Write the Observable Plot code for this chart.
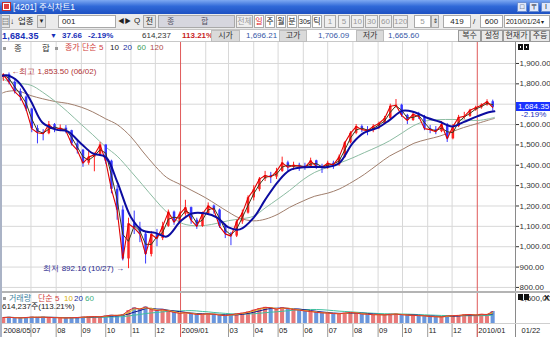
<!DOCTYPE html>
<html><head><meta charset="utf-8">
<script src="https://cdn.jsdelivr.net/npm/d3@7"></script>
<script src="https://cdn.jsdelivr.net/npm/@observablehq/plot@0.6"></script>
<style>
*{box-sizing:border-box}
body{margin:0;background:#fff;}
#win{position:relative;width:550px;height:337px;overflow:hidden;background:#fff;font-family:"Liberation Sans","Noto Sans CJK KR",sans-serif;color:#222;font-size:8px;}
.a{position:absolute;white-space:nowrap;line-height:1;}
.b{position:absolute;white-space:nowrap;border:1px solid #a9a9a9;background:#fff;text-align:center;line-height:11px;height:13px;top:15px;font-size:8px;}
.l{position:absolute;white-space:nowrap;top:30px;height:12px;background:#dadada;border:1px solid #bdbdbd;text-align:center;line-height:10px;font-size:8px;color:#333;}
.w{position:absolute;white-space:nowrap;top:30px;height:12px;background:#e9e9e9;border:1px solid #9a9a9a;text-align:center;line-height:10px;font-size:8px;color:#333;}
.v{position:absolute;white-space:nowrap;top:31px;line-height:10px;font-size:8px;}
#pricebox, #volbox, #datebox{position:absolute;left:0;width:550px;}
#pricebox{top:42px;height:249px;}
#volbox{top:291px;height:32px;border-top:2px solid #b4b4b4;}
#datebox{top:323px;height:14px;border-top:1px solid #cfcfcf;}
svg{display:block}
</style></head>
<body><div id="win">
<div id="pricebox"></div><div id="volbox"></div><div id="datebox"></div>

<!-- title bar -->
<div class="a" style="left:0;top:0;width:550px;height:14px;background:linear-gradient(#7ea9f2,#3069d8 45%,#1d50c2);"></div>
<div class="a" style="left:2px;top:2px;width:9px;height:9px;background:#fff;border:1px solid #c03030;"><div style="margin:1px;width:5px;height:5px;background:#e04040"></div></div>
<div class="a" style="left:13px;top:3px;font-size:8.5px;color:#fff;">[4201] 주식차트1</div>
<div class="a" style="left:517px;top:2px;width:10px;height:10px;background:#dfe8fb;border:1px solid #6d8fd0;font-size:7px;text-align:center;line-height:8px;color:#123">□</div>
<div class="a" style="left:529px;top:2px;width:10px;height:10px;background:#dfe8fb;border:1px solid #6d8fd0;font-size:7px;text-align:center;line-height:8px;color:#123">〒</div>
<div class="a" style="left:541px;top:2px;width:10px;height:10px;background:#dfe8fb;border:1px solid #6d8fd0;font-size:7px;text-align:center;line-height:8px;color:#123">I</div>

<!-- toolbar -->
<div class="a" style="left:0;top:14px;width:550px;height:16px;background:#ebebeb;border-bottom:1px solid #c4c4c4;"></div>
<div class="b" style="left:1px;width:9px;background:#e4e4e4;font-size:7px">▤</div>
<div class="a" style="left:10px;top:18px;font-size:8px;">↓</div>
<div class="a" style="left:18px;top:17px;font-size:8.5px;">업종</div>
<div class="b" style="left:37px;width:9px;background:#e4e4e4;font-size:6px">▼</div>
<div class="b" style="left:58px;width:58px;text-align:left;padding-left:3px">001</div>
<div class="a" style="left:118px;top:18px;font-size:6.5px;">◀▶</div>
<div class="a" style="left:134px;top:17px;font-size:8px;">Q</div>
<div class="b" style="left:143px;width:13px;background:#e4e4e4">전</div>
<div class="b" style="left:158px;width:77px;background:#d6d6de;color:#556"><span style="position:absolute;left:8px">종</span><span style="position:absolute;left:42px">합</span></div>
<div class="b" style="left:236px;width:17px;color:#999;background:#efefef">전체</div>
<div class="b" style="left:254px;width:10px;color:#e02020">일</div>
<div class="b" style="left:265px;width:10px;">주</div>
<div class="b" style="left:276px;width:10px;">월</div>
<div class="b" style="left:287px;width:10px;">분</div>
<div class="b" style="left:298px;width:13px;font-size:7px">30s</div>
<div class="b" style="left:312px;width:10px;">틱</div>
<div class="b" style="left:324px;width:12px;color:#999;background:#efefef">1</div>
<div class="b" style="left:338px;width:12px;color:#999;background:#efefef">5</div>
<div class="b" style="left:351px;width:13px;color:#999;background:#efefef">10</div>
<div class="b" style="left:365px;width:13px;color:#999;background:#efefef">30</div>
<div class="b" style="left:379px;width:13px;color:#999;background:#efefef">60</div>
<div class="b" style="left:393px;width:15px;color:#999;background:#efefef">120</div>
<div class="b" style="left:414px;width:17px;color:#999;">5</div>
<div class="b" style="left:431px;width:8px;font-size:6px;background:#e4e4e4">⇕</div>
<div class="b" style="left:443px;width:28px;">419</div>
<div class="a" style="left:473px;top:18px;font-size:8px;">/</div>
<div class="b" style="left:480px;width:23px;">600</div>
<div class="b" style="left:504px;width:46px;text-align:left;padding-left:1px;font-size:7.2px;letter-spacing:-0.2px">2010/01/24<span style="font-size:6px"> ▾</span></div>

<!-- info row -->
<div class="a" style="left:0;top:30px;width:550px;height:12px;background:#fff;border-bottom:1px solid #c8c8c8"></div>
<div class="v" style="left:2px;font-size:9px;font-weight:bold;color:#1830b8;letter-spacing:0.2px">1,684.35</div>
<div class="v" style="left:50px;font-size:7px;color:#1830b8">▼</div>
<div class="v" style="left:62px;color:#1830b8;font-weight:bold">37.66</div>
<div class="v" style="left:88px;color:#1830b8;font-weight:bold">-2.19%</div>
<div class="v" style="left:142px;color:#333">614,237</div>
<div class="v" style="left:182px;color:#c81e1e;font-weight:bold">113.21%</div>
<div class="l" style="left:211px;width:29px">시가</div>
<div class="v" style="left:246px;color:#3456a6">1,696.21</div>
<div class="l" style="left:279px;width:28px">고가</div>
<div class="v" style="left:318px;color:#3456a6">1,706.09</div>
<div class="l" style="left:356px;width:28px">저가</div>
<div class="v" style="left:388px;color:#3456a6">1,665.60</div>
<div class="w" style="left:458px;width:23px">복수</div>
<div class="w" style="left:481px;width:22px">설정</div>
<div class="w" style="left:503px;width:27px">현재가</div>
<div class="w" style="left:530px;width:20px">주등</div>

<!-- price legend row -->
<div class="a" style="left:3px;top:47px;width:3px;height:3px;background:#9a9a9a"></div>
<div class="a" style="left:14px;top:44px;font-size:8.5px;color:#333">종</div>
<div class="a" style="left:42px;top:44px;font-size:8.5px;color:#333">합</div>
<div class="a" style="left:55px;top:47px;width:3px;height:3px;background:#9a9a9a"></div>
<div class="a" style="left:65px;top:44px;font-size:8px;color:#d03c3c">종가 단순 5</div>
<div class="a" style="left:110px;top:44px;font-size:8px;color:#222">10</div>
<div class="a" style="left:123px;top:44px;font-size:8px;color:#2030a0">20</div>
<div class="a" style="left:137px;top:44px;font-size:8px;color:#40a060">60</div>
<div class="a" style="left:150px;top:44px;font-size:8px;color:#b04a4a">120</div>
<div class="a" style="left:518px;top:44px;width:5px;height:6px;background:#111;border:1px solid #111"><div style="margin:1px;width:1px;height:2px;background:#fff"></div></div>
<div class="a" style="left:524px;top:44px;width:5px;height:6px;background:#111;border:1px solid #111"><div style="margin:1px;width:1px;height:2px;background:#fff"></div></div>

<!-- volume labels -->
<div class="a" style="left:3px;top:297px;width:3px;height:3px;background:#9a9a9a"></div>
<div class="a" style="left:9px;top:295px;font-size:8px;color:#3a7fa0">거래량</div>
<div class="a" style="left:38px;top:295px;font-size:8px;color:#d03c3c">단순 5</div>
<div class="a" style="left:64px;top:295px;font-size:8px;color:#d8b000">10</div>
<div class="a" style="left:74px;top:295px;font-size:8px;color:#2030a0">20</div>
<div class="a" style="left:85px;top:295px;font-size:8px;color:#40b080">60</div>
<div class="a" style="left:2px;top:303px;font-size:8px;color:#222">614,237주(113.21%)</div>
<div class="a" style="left:520px;top:295px;font-size:8px;color:#333">1,600,00</div>
<div class="a" style="left:518px;top:294px;width:5px;height:6px;background:#111"></div>
<div class="a" style="left:524px;top:294px;width:5px;height:6px;background:#111"></div>
<div class="a" style="left:544px;top:294px;font-size:8px;font-weight:bold;color:#111">X</div>

<div class="a" style="left:0;top:14px;width:2px;height:323px;background:#aab3c6"></div>
<div id="cur" class="a" style="left:516px;width:34px;height:9px;background:#1a33ff;color:#fff;font-size:8px;line-height:9px;padding-left:2px">1,684.35</div>
<div id="curpct" class="a" style="left:521px;font-size:8px;color:#2030c0">-2.19%</div>
</div>

<script>
// ---- data ----
const weekStart = "2008-05-26", weekEnd = "2010-01-19";   // weekly bars, Monday starts
const firstOpen = 1830;
const close = [1845,1808,1762,1735,1676,1580,1560,1555,1600,1576,
1582,1570,1505,1474,1410,1440,1452,1500,1420,1282,
1180,940,1113,1092,1062,962,1060,1040,1100,1170,
1120,1160,1192,1130,1100,1162,1200,1180,1100,1063,
1052,1122,1165,1240,1280,1332,1350,1342,1370,1412,
1390,1400,1396,1390,1422,1395,1390,1410,1402,1440,
1510,1557,1590,1575,1570,1591,1605,1630,1690,1695,
1645,1620,1650,1640,1580,1575,1565,1600,1530,1590,
1635,1640,1670,1682,1695,1712,1684.35];
const high = [1850,1853.5,1815,1775,1740,1680,1595,1575,1615,1605,
1598,1595,1572,1520,1478,1475,1460,1512,1500,1425,
1300,1200,1140,1175,1120,1075,1075,1085,1120,1180,
1175,1170,1228,1195,1140,1170,1215,1205,1185,1110,
1070,1130,1180,1250,1300,1340,1370,1365,1385,1440,
1420,1415,1410,1410,1435,1425,1405,1420,1420,1450,
1515,1565,1600,1598,1590,1600,1612,1640,1700,1723,
1700,1650,1662,1660,1645,1595,1590,1615,1605,1600,
1645,1660,1675,1690,1702,1722,1720];
const low = [1812,1795,1750,1715,1665,1560,1505,1520,1550,1560,
1565,1555,1495,1455,1390,1400,1368,1445,1405,1260,
1130,930,892.16,1060,1020,915,950,1000,1030,1095,
1105,1115,1150,1110,1085,1095,1155,1160,1090,1040,
1005,1045,1110,1160,1225,1270,1320,1310,1330,1365,
1370,1375,1370,1375,1385,1380,1360,1380,1380,1395,
1435,1505,1550,1560,1545,1560,1575,1600,1625,1680,
1635,1600,1615,1625,1570,1555,1550,1560,1512,1525,
1585,1625,1635,1665,1675,1690,1665.6];
const volume = [260,270,250,240,260, 280,270,275,260, 255,245,240,250,260,
280,290,300,290, 330,360,350,380, 560,680,620,720,600, 560,600,540,480,
440,470,430,390,400, 420,400,360,340, 380,420,450,500, 580,650,700,680,620,
680,650,600,580, 540,520,480,460, 450,430,420,450,480, 450,410,400,380,
380,370,400,410,380, 360,350,340,330, 300,290,280,330, 340,350,380,390,360,
400,390,520]; // thousand shares
const maDates = ["2008-05-27","2008-06-01","2008-06-15","2008-07-01","2008-07-15","2008-08-01","2008-08-15","2008-09-01","2008-09-15","2008-10-01","2008-10-15","2008-11-01","2008-11-15","2008-12-01","2008-12-15","2009-01-01","2009-01-15","2009-02-01","2009-02-15","2009-03-01","2009-03-15","2009-04-01","2009-04-15","2009-05-01","2009-05-15","2009-06-01","2009-06-15","2009-07-01","2009-07-15","2009-08-01","2009-08-15","2009-09-01","2009-09-15","2009-10-01","2009-10-15","2009-11-01","2009-11-15","2009-12-01","2009-12-15","2010-01-01","2010-01-15","2010-01-22"];
const ma20 = [1840,1842,1812,1715,1610,1575,1566,1505,1458,1440,1320,1145,1080,1068,1050,1125,1163,1163,1143,1095,1085,1143,1230,1320,1375,1390,1392,1392,1410,1510,1560,1585,1622,1668,1662,1632,1615,1590,1612,1640,1660,1665];
const ma60 = [1825,1815,1803,1793,1760,1710,1663,1600,1550,1490,1445,1370,1305,1230,1170,1118,1104,1105,1115,1128,1136,1150,1190,1235,1276,1330,1365,1390,1410,1437,1462,1492,1520,1560,1595,1620,1624,1625,1623,1620,1628,1635];
const ma120 = [1755,1762,1765,1742,1727,1712,1704,1685,1662,1628,1600,1540,1470,1395,1340,1305,1276,1240,1205,1170,1140,1127,1135,1160,1193,1225,1248,1263,1283,1320,1355,1405,1445,1478,1508,1528,1542,1565,1585,1605,1622,1630];
const yTicks = [800,900,1000,1100,1200,1300,1400,1500,1600,1700,1800,1900];
const tickDates = ["2008-05-27","2008-07-01","2008-08-01","2008-09-01","2008-10-01","2008-11-01","2008-12-01","2009-01-01","2009-03-01","2009-04-01","2009-05-01","2009-06-01","2009-07-01","2009-08-01","2009-09-01","2009-10-01","2009-11-01","2009-12-01","2010-01-01"];
const tickLabels = ["2008/05","07","08","09","10","11","12","2009/01","03","04","05","06","07","08","09","10","11","12","2010/01"];
const lastDateLabel = "01/22";
const highNote = {date:"2008-06-02", value:1853.50, label:"←최고 1,853.50 (06/02)"};
const lowNote = {date:"2008-10-27", value:892.16, label:"최저 892.16 (10/27) →"};

// ---- build tables ----
const weeks = d3.utcMonday.range(new Date(weekStart), new Date(weekEnd));
const n = Math.min(weeks.length, close.length);
const bars = d3.range(n).map(i => ({
  date: d3.utcDay.offset(weeks[i], 2),
  mon: weeks[i],
  open: i ? close[i-1] : firstOpen,
  close: close[i], high: high[i], low: low[i], vol: volume[i]
}));
const up = bars.filter(d => d.close >= d.open), dn = bars.filter(d => d.close < d.open);
const ma = maDates.map((d,i) => ({date:new Date(d), m20:ma20[i], m60:ma60[i], m120:ma120[i]}));
const xDomain = [new Date("2008-05-27"), new Date("2010-02-17")];
const gridMonths = d3.utcMonth.range(new Date("2008-07-01"), new Date("2010-01-23"));
const grayMonths = gridMonths.filter(d => d.getUTCMonth() !== 0);
const yearMonths = gridMonths.filter(d => d.getUTCMonth() === 0);
const ticks = tickDates.map((d,i) => ({date:new Date(d), label:tickLabels[i]}));
const RED = "#ff2222", BLUE = "#3838ff";
const xOpt = {type:"utc", domain:xDomain, axis:null};
const common = {width:550, marginLeft:2, marginRight:35, marginTop:0, marginBottom:0};

const price = Plot.plot({
  ...common, height:249,
  style:{background:"#fff", fontFamily:"Liberation Sans, sans-serif", fontSize:"8px", color:"#333"},
  x: xOpt,
  y: {domain:[780,2003], axis:"right", ticks:yTicks, tickFormat:d3.format(",.2f"), tickSize:3, tickPadding:1, label:null},
  marks: [
    Plot.ruleY(yTicks, {stroke:"#d8d8d8"}),
    Plot.ruleX(grayMonths, {stroke:"#d8d8d8"}),
    Plot.ruleX(yearMonths, {stroke:"#e05a5a"}),
    Plot.line(ma, {x:"date", y:"m120", stroke:"#a07e6c", strokeWidth:1, curve:"catmull-rom"}),
    Plot.line(ma, {x:"date", y:"m60", stroke:"#8cbca2", strokeWidth:1, curve:"catmull-rom"}),
    Plot.ruleX(up, {x:"date", y1:"low", y2:"high", stroke:RED, strokeWidth:1}),
    Plot.ruleX(dn, {x:"date", y1:"low", y2:"high", stroke:BLUE, strokeWidth:1}),
    Plot.ruleX(up, {x:"date", y1:"open", y2:"close", stroke:RED, strokeWidth:2.5}),
    Plot.ruleX(dn, {x:"date", y1:"open", y2:"close", stroke:BLUE, strokeWidth:2.5}),
    Plot.line(bars, Plot.windowY({k:2, anchor:"end"}, {x:"date", y:"close", stroke:"#3a3a1a", strokeWidth:1})),
    Plot.line(bars, {x:"date", y:"close", stroke:"#e00000", strokeWidth:1.1}),
    Plot.line(ma, {x:"date", y:"m20", stroke:"#0c0ca0", strokeWidth:2, curve:"catmull-rom"}),
    Plot.ruleX([xDomain[1]], {stroke:"#8a8a8a"}),
    Plot.text([highNote], {x:d=>new Date(d.date), y:"value", text:"label", textAnchor:"start", dx:4, dy:-2, fill:"#b03434", fontSize:8}),
    Plot.text([lowNote], {x:d=>new Date(d.date), y:"value", text:"label", textAnchor:"end", dx:-3, fill:"#28288c", fontSize:8})
  ]
});
document.getElementById("pricebox").appendChild(price);

const vol = Plot.plot({
  ...common, height:30,
  style:{background:"#fff"},
  x: xOpt,
  y: {domain:[0,1300], axis:null},
  marks: [
    Plot.ruleX(grayMonths, {stroke:"#dcdcdc"}),
    Plot.rectY(up, {x1:"mon", x2:d=>d3.utcDay.offset(d.mon,5), y:"vol", fill:"#e87878"}),
    Plot.rectY(dn, {x1:"mon", x2:d=>d3.utcDay.offset(d.mon,5), y:"vol", fill:"#6a96dc"}),
    Plot.ruleX(yearMonths, {stroke:"#e05a5a"}),
    Plot.line(bars, Plot.windowY({k:12, anchor:"end"}, {x:"date", y:"vol", stroke:"#40c0a0", strokeWidth:1})),
    Plot.line(bars, Plot.windowY({k:4, anchor:"end"}, {x:"date", y:"vol", stroke:"#101090", strokeWidth:1})),
    Plot.line(bars, Plot.windowY({k:2, anchor:"end"}, {x:"date", y:"vol", stroke:"#e0c020", strokeWidth:1})),
    Plot.line(bars, {x:"date", y:"vol", stroke:"#e03030", strokeWidth:1}),
    Plot.ruleX([xDomain[1]], {stroke:"#8a8a8a"})
  ]
});
document.getElementById("volbox").appendChild(vol);

const dates = Plot.plot({
  ...common, height:13,
  style:{background:"#fff", fontFamily:"Liberation Sans, sans-serif", fontSize:"7.5px", color:"#222"},
  x: xOpt,
  marks: [
    Plot.ruleX(ticks.slice(1), {x:"date", stroke:"#9a9a9a"}),
    Plot.ruleX(yearMonths, {stroke:"#e05a5a"}),
    Plot.text(ticks, {x:"date", text:"label", textAnchor:"start", dx:1, frameAnchor:"middle", fill:"#222", fontSize:7.5}),
    Plot.ruleX([xDomain[1]], {stroke:"#8a8a8a"}),
    Plot.text([{date:xDomain[1], label:lastDateLabel}], {x:"date", text:"label", textAnchor:"start", dx:6, frameAnchor:"middle", fill:"#222", fontSize:7.5})
  ]
});
document.getElementById("datebox").appendChild(dates);

// current price marker positioned via the y scale
const ys = price.scale("y");
const lastClose = close[n-1];
let yy;
if (ys && ys.apply) yy = ys.apply(lastClose);
else { const [d0,d1] = ys.domain, [r0,r1] = ys.range; yy = r0 + (lastClose-d0)/(d1-d0)*(r1-r0); }
document.getElementById("cur").style.top = (42 + yy - 5) + "px";
document.getElementById("curpct").style.top = (42 + yy + 4) + "px";
</script>
</body></html>
